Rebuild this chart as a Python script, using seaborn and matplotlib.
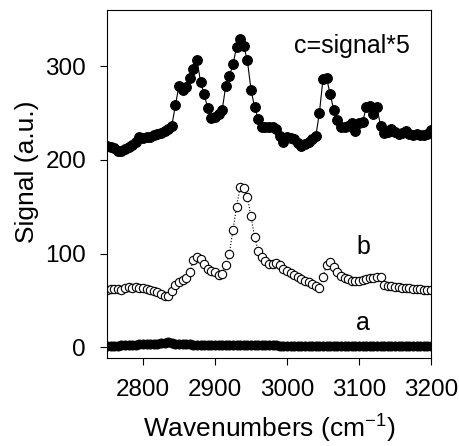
import numpy as np
import pandas as pd
import seaborn as sns
import matplotlib.pyplot as plt

# wavenumber grid (cm-1), 5 cm-1 step
wavenumbers = list(range(2750, 3201, 5))

# spectrum c (scaled x5), filled markers, solid line
signal_c = [215, 214, 213, 209, 209, 212, 214, 216, 219, 224,
            223, 224, 224, 226, 228, 229, 231, 233, 236, 258,
            279, 274, 278, 287, 297, 307, 283, 270, 255, 245,
            246, 249, 253, 279, 289, 302, 320, 329, 321, 306,
            275, 256, 244, 235, 235, 235, 235, 233, 225, 219,
            224, 223, 222, 218, 215, 217, 219, 222, 225, 250,
            286, 287, 270, 253, 242, 235, 235, 236, 239, 231,
            239, 240, 256, 257, 249, 256, 236, 229, 230, 233,
            230, 228, 229, 231, 228, 227, 228, 227, 226, 228,
            232]

# spectrum b, open markers, dotted line
signal_b = [61, 62, 62, 62, 61, 63, 64, 63, 64, 63,
            63, 62, 61, 60, 59, 57, 55, 55, 60, 66,
            70, 72, 74, 80, 93, 96, 94, 89, 84, 81,
            80, 77, 78, 88, 100, 125, 150, 171, 170, 160,
            140, 118, 103, 96, 92, 89, 89, 90, 88, 84,
            81, 79, 77, 75, 73, 71, 70, 68, 65, 63,
            75, 88, 91, 86, 80, 76, 74, 73, 71, 71,
            71, 72, 73, 74, 74, 75, 75, 67, 65, 65,
            64, 64, 63, 63, 63, 62, 62, 62, 61, 61,
            61]

# spectrum a, filled markers near zero
signal_a = [2, 2, 2, 2, 3, 3, 3, 3, 3, 4,
            4, 4, 4, 4, 4, 5, 5, 6, 5, 4,
            4, 4, 4, 4, 3, 3, 3, 3, 3, 3,
            3, 3, 3, 3, 3, 3, 3, 3, 3, 3,
            3, 3, 3, 3, 3, 3, 3, 3, 2, 2,
            2, 2, 2, 2, 2, 2, 2, 2, 2, 2,
            2, 2, 2, 2, 2, 2, 1, 1, 1, 1,
            1, 1, 1, 1, 1, 1, 1, 1, 1, 1,
            1, 1, 1, 1, 1, 1, 1, 1, 1, 1,
            1]

df = pd.DataFrame({"wn": wavenumbers, "a": signal_a, "b": signal_b, "c": signal_c})

sns.set_style("ticks")
plt.rcParams["font.family"] = ["Liberation Sans", "DejaVu Sans"]
plt.rcParams["text.color"] = "black"
plt.rcParams["axes.labelcolor"] = "black"
plt.rcParams["mathtext.fontset"] = "custom"
plt.rcParams["mathtext.rm"] = "Liberation Sans"
plt.rcParams["mathtext.default"] = "rm"

fig = plt.figure(figsize=(4.59, 4.46), dpi=100)
ax = fig.add_axes([0.233, 0.198, 0.706, 0.78])

sns.lineplot(data=df, x="wn", y="a", ax=ax, color="black", lw=0.8,
             marker="o", markersize=6.4, markerfacecolor="black",
             markeredgecolor="black", markeredgewidth=0.8)
sns.lineplot(data=df, x="wn", y="b", ax=ax, color="black", lw=0.8, linestyle=":",
             marker="o", markersize=6.0, markerfacecolor="white",
             markeredgecolor="black", markeredgewidth=0.8)
sns.lineplot(data=df, x="wn", y="c", ax=ax, color="black", lw=0.8,
             marker="o", markersize=7.0, markerfacecolor="black",
             markeredgecolor="black", markeredgewidth=0.8)

ax.text(3090, 321, "c=signal*5", fontsize=18, ha="center", va="center")
ax.text(3106, 107, "b", fontsize=18, ha="center", va="center")
ax.text(3106, 26, "a", fontsize=18, ha="center", va="center")

ax.set_xlim(2750, 3200)
ax.set_ylim(-11, 360)
ax.set_xticks([2800, 2900, 3000, 3100, 3200])
ax.set_yticks([0, 100, 200, 300])
ax.tick_params(direction="out", length=5, width=0.8, labelsize=17.5,
               colors="black", pad=10)
for s in ax.spines.values():
    s.set_visible(True)
    s.set_color("black")
    s.set_linewidth(0.8)

ax.set_xlabel("Wavenumbers (cm$^{-1}$)", fontsize=19, labelpad=9)
ax.set_ylabel("Signal (a.u.)", fontsize=19)
ax.yaxis.set_label_coords(-0.21, 0.535)

fig.savefig("out.png", dpi=100)
